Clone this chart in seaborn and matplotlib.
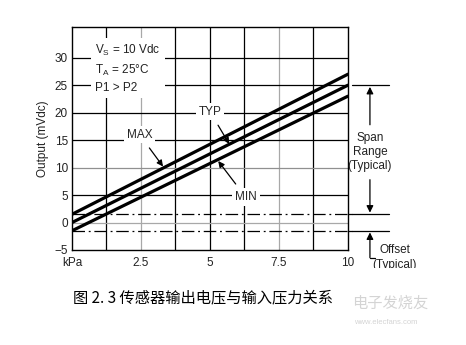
import matplotlib
matplotlib.use("Agg")
import matplotlib.pyplot as plt
import seaborn as sns
import pandas as pd
from matplotlib.transforms import Bbox

# ---- data ----
pressure_kpa = [0, 10]
out_max = [1.5, 27.0]
out_typ = [0.0, 25.0]
out_min = [-1.5, 23.0]
series_names = ["MAX", "TYP", "MIN"]
x_tick_vals = [0, 2.5, 5, 7.5, 10]
x_tick_labels = ["kPa", "2.5", "5", "7.5", "10"]
y_tick_vals = [-5, 0, 5, 10, 15, 20, 25, 30]
x_grid_vals = [1.25, 2.5, 3.75, 5, 6.25, 7.5, 8.75]
y_grid_vals = [0, 5, 10, 15, 20, 25, 30]
offset_max = 1.5
offset_min = -1.5
span_top = 25.0
caption = "图 2. 3 传感器输出电压与输入压力关系"

df = pd.DataFrame({
    "kPa": pressure_kpa * 3,
    "mV": out_max + out_typ + out_min,
    "curve": [n for n in series_names for _ in pressure_kpa],
})

sns.set_theme(style="white")
plt.rcParams["font.family"] = ["Liberation Sans", "DejaVu Sans"]

fig = plt.figure(figsize=(4.66, 3.45), dpi=100)
ax = fig.add_axes([0.1545, 0.2754, 0.592, 0.6463])

xgrid_col = {1.25: "black", 2.5: "#a8a8a8", 3.75: "black", 5: "black",
             6.25: "black", 7.5: "#a8a8a8", 8.75: "black"}
ygrid_col = {0: "#a8a8a8", 5: "black", 10: "#909090", 15: "black",
             20: "black", 25: "black", 30: "black"}
for v in x_grid_vals:
    ax.axvline(v, color=xgrid_col[v], lw=0.9, zorder=1)
for v in y_grid_vals:
    ax.axhline(v, color=ygrid_col[v], lw=0.9, zorder=1)

sns.lineplot(data=df, x="kPa", y="mV", hue="curve", palette=["black"] * 3,
             linewidth=2.3, legend=False, ax=ax, zorder=3)

# offset dash-dot lines
for v in [offset_max, offset_min]:
    ax.plot([0, 10], [v, v], color="black", lw=0.9, ls=(0, (10, 3, 1.5, 3)), zorder=2)

ax.set_xlim(0, 10)
ax.set_ylim(-5, 35.6)
ax.set_xticks(x_tick_vals)
ax.set_xticklabels(x_tick_labels)
ax.set_yticks(y_tick_vals)
ax.set_yticklabels(["\u22125"] + [str(v) for v in y_tick_vals[1:]])
ax.tick_params(axis="y", length=0, labelsize=8.5, pad=3, colors="#222222")
ax.tick_params(axis="x", length=0, labelsize=8.5, pad=5, colors="#222222")
ax.set_xlabel("")
ax.set_ylabel("Output (mVdc)", fontsize=8.5, color="#222222", labelpad=4)
for s in ax.spines.values():
    s.set_color("black")
    s.set_linewidth(1.0)

box = dict(facecolor="white", edgecolor="none", pad=2)
ax.text(0.85, 28.0, "V$_\\mathregular{S}$ = 10 Vdc\nT$_\\mathregular{A}$ = 25\u00b0C\nP1 > P2",
        fontsize=8.5, va="center", ha="left", linespacing=1.45, zorder=4, color="#222222",
        bbox=dict(facecolor="white", edgecolor="none", pad=3))

# curve labels with arrows
arr = dict(arrowstyle="-|>", color="black", lw=0.9, mutation_scale=9, shrinkA=4, shrinkB=0)
ax.annotate("MAX", xy=(3.3, 10.2), xytext=(2.45, 16.0), fontsize=8.5, ha="center",
            va="center", bbox=box, zorder=4, arrowprops=arr)
ax.annotate("TYP", xy=(5.7, 14.3), xytext=(5.0, 20.2), fontsize=8.5, ha="center",
            va="center", bbox=box, zorder=4, arrowprops=arr)
ax.annotate("MIN", xy=(5.3, 11.2), xytext=(6.3, 4.6), fontsize=8.5, ha="center",
            va="center", bbox=box, zorder=4, arrowprops=arr)

# right-hand span / offset annotations (outside axes)
for v in [span_top, offset_max, offset_min]:
    ax.plot([10.15, 11.5], [v, v], color="black", lw=0.9, clip_on=False)
ax.plot([10.0, 10.15], [offset_max, offset_max], color="black", lw=0.9, clip_on=False)
ax.plot([10.0, 10.15], [offset_min, offset_min], color="black", lw=0.9, clip_on=False)
xa = 10.8
arr2 = dict(arrowstyle="-|>", color="black", lw=0.9, mutation_scale=10, shrinkA=0, shrinkB=0)
ax.annotate("", xy=(xa, span_top - 0.3), xytext=(xa, 17.8), annotation_clip=False,
            arrowprops=arr2)
ax.annotate("", xy=(xa, offset_max + 0.3), xytext=(xa, 7.8), annotation_clip=False,
            arrowprops=arr2)
ax.annotate("", xy=(xa, offset_min - 0.3), xytext=(xa, -6.4), annotation_clip=False,
            arrowprops=arr2)
ax.plot([xa, xa + 0.18], [-6.4, -6.4], color="black", lw=0.9, clip_on=False)
ax.text(xa, 12.8, "Span\nRange\n(Typical)", fontsize=8.5, ha="center", va="center",
        linespacing=1.2, color="#222222", clip_on=False)
ax.text(11.7, -5.0, "Offset", fontsize=8.5, ha="center", va="center",
        color="#222222", clip_on=False)
t = ax.text(11.7, -7.7, "(Typical)", fontsize=8.5, ha="center", va="center",
            color="#222222", clip_on=False)
t.set_clip_box(Bbox.from_extents(0, 345 - 268, 466, 345))
t.set_clip_on(True)

# caption
fig.text(73 / 466, 1 - 298 / 345, caption, fontsize=11, ha="left", va="center",
         family=["Noto Sans CJK SC", "DejaVu Sans"], color="black")
# watermark
fig.text(352 / 466, 1 - 303 / 345, "电子发烧友", fontsize=11, ha="left", va="center",
         family=["Noto Sans CJK SC", "DejaVu Sans"], color="#d4d4d4", style="italic")
fig.text(354 / 466, 1 - 322 / 345, "www.elecfans.com", fontsize=5.5, ha="left", va="center",
         color="#d4d4d4")

fig.savefig("out.png", dpi=100, facecolor="white")
